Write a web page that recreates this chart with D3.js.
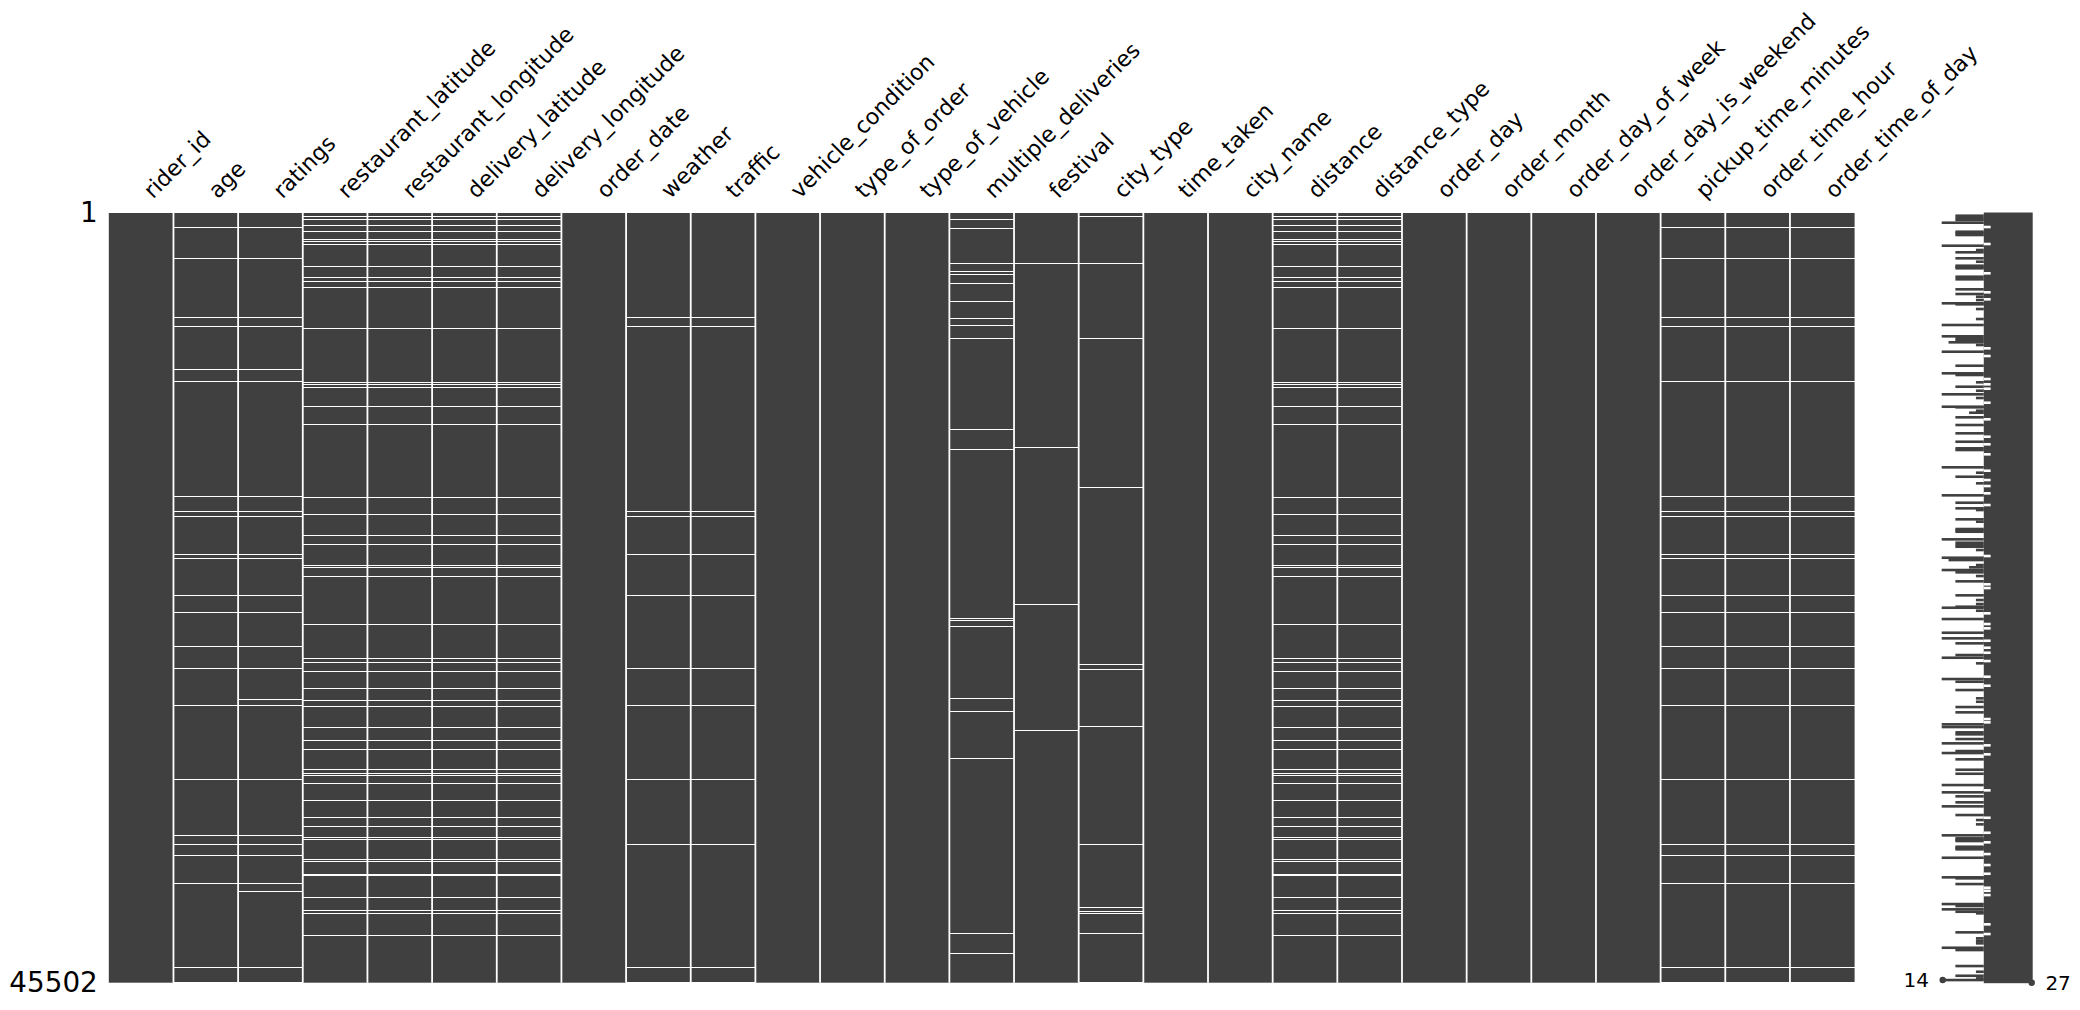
<!DOCTYPE html>
<html>
<head>
<meta charset="utf-8">
<script src="https://cdn.jsdelivr.net/npm/d3@7"></script>
<style>
  body { margin: 0; background: #fff; }
  svg { display: block; font-family: "DejaVu Sans", sans-serif; }
</style>
</head>
<body>
<div id="matrix"></div>
<script>
// ---- data ----
var columns = ["rider_id", "age", "ratings", "restaurant_latitude", "restaurant_longitude",
  "delivery_latitude", "delivery_longitude", "order_date", "weather", "traffic",
  "vehicle_condition", "type_of_order", "type_of_vehicle", "multiple_deliveries",
  "festival", "city_type", "time_taken", "city_name", "distance", "distance_type",
  "order_day", "order_month", "order_day_of_week", "order_day_is_weekend",
  "pickup_time_minutes", "order_time_hour", "order_time_of_day"];

var nRows = 45502;

// row indices of missing values (only the ones that show up at this resolution)
var ageMissing = [845, 2660, 6166, 6698, 9240, 9950, 16749, 17635, 17913, 20142, 20414,
  22602, 23607, 25617, 26917, 29104, 33479, 36773, 37323, 37973, 39629, 44594, 45446];
var ratingsMissing = [845, 2660, 6166, 6698, 9240, 9950, 16749, 17635, 17913, 20142, 20414,
  22602, 23607, 25617, 26917, 28750, 29104, 33479, 36773, 37323, 37973, 39629, 40074, 44594, 45446];
var locationMissing = [177, 372, 727, 1082, 1519, 1655, 1815, 3151, 3801, 4038, 4357, 6817,
  10009, 10127, 10287, 11428, 12492, 16808, 17813, 19054, 19587, 20811, 20947, 21461, 24317,
  26327, 26563, 27095, 28100, 28810, 29146, 30406, 31174, 31706, 32889, 33125, 33208, 33681,
  34722, 35727, 36241, 36909, 37027, 38174, 38292, 39096, 39155, 40455, 41189, 41366, 42702];
var weatherMissing = [6166, 6698, 17635, 17913, 20142, 22602, 26917, 29104, 33479, 37323, 44594, 45446];
var multipleMissing = [372, 905, 2974, 3447, 3589, 4156, 5220, 6225, 6639, 7408, 12788, 13971,
  23961, 24080, 24434, 28691, 29459, 32238, 42584, 43766];
var festivalMissing = [2974, 13852, 23134, 30583];
var cityTypeMissing = [195, 2974, 7408, 16217, 26681, 26977, 30347, 37323, 41047, 41266, 41402, 42584, 45446];
var pickupMissing = [845, 2660, 6166, 6698, 9950, 16749, 17635, 17913, 20142, 20414, 22602,
  23607, 25617, 26917, 29104, 33479, 37323, 37973, 39629, 44594, 45446];

var missingByColumn = {
  "age": ageMissing,
  "ratings": ratingsMissing,
  "restaurant_latitude": locationMissing,
  "restaurant_longitude": locationMissing,
  "delivery_latitude": locationMissing,
  "delivery_longitude": locationMissing,
  "weather": weatherMissing,
  "traffic": weatherMissing,
  "multiple_deliveries": multipleMissing,
  "festival": festivalMissing,
  "city_type": cityTypeMissing,
  "distance": locationMissing,
  "distance_type": locationMissing,
  "pickup_time_minutes": pickupMissing,
  "order_time_hour": pickupMissing,
  "order_time_of_day": pickupMissing
};

// sparkline: usual per-band range of completeness, and the bands that leave it [row, value]
var sparkBand = [20, 27];
var sparkDips = [[160,16],[313,16],[414,16],[573,14],[828,21],[1106,16],[1200,16],[1301,16],
  [1833,21],[1933,14],[2187,19],[2323,16],[2678,16],[2879,19],[3116,16],[3192,16],[3269,16],
  [3565,21],[3766,16],[3920,16],[4511,16],[4688,21],[4789,16],[4948,19],[5102,21],[5143,19],
  [5338,14],[5398,16],[5676,19],[6267,19],[6621,14],[7290,14],[7408,16],[7526,16],[7644,15],
  [7804,19],[7999,21],[8200,14],[8454,21],[9028,16],[9477,14],[9577,16],[9814,21],[10009,19],
  [10127,21],[10269,16],[10387,21],[10506,19],[10718,14],[10937,19],[11215,21],[11452,14],
  [11487,16],[11688,19],[11806,18],[12078,16],[12196,21],[12533,16],[13024,16],[13225,21],
  [13521,16],[13674,21],[13911,16],[14011,16],[14266,21],[15034,14],[15235,21],[15353,19],
  [15590,16],[15785,21],[15980,19],[16140,21],[16571,21],[16690,14],[17127,16],[17263,21],
  [17458,16],[17559,19],[18108,16],[18250,19],[18682,16],[18759,16],[18842,16],[19291,14],
  [19492,16],[19628,16],[19728,16],[19923,19],[20278,21],[20379,14],[20515,15],[20810,19],
  [20946,18],[21106,14],[21242,16],[21461,19],[21774,16],[21951,21],[22170,21],[22602,16],
  [22879,19],[23116,19],[23275,16],[23335,14],[23512,19],[23666,21],[24003,14],[24298,21],
  [24553,21],[24813,14],[25144,14],[25286,21],[25439,16],[25699,21],[25995,21],[26131,16],
  [26291,14],[26486,21],[26622,19],[27414,21],[27550,14],[27710,16],[27946,21],[28200,16],
  [28691,19],[28892,19],[29205,16],[29519,16],[29915,21],[30110,21],[30228,14],[30388,14],
  [30701,16],[30819,16],[31097,16],[31351,14],[31470,21],[31807,16],[31925,14],[32002,21],
  [32297,16],[32912,16],[33149,16],[33817,14],[34130,21],[34248,14],[34485,16],[34839,16],
  [35076,14],[35590,16],[35750,21],[35886,19],[36140,19],[36637,21],[36790,14],[36968,16],
  [37050,16],[37127,16],[37204,21],[37464,16],[37541,16],[37618,16],[37896,21],[38115,14],
  [38546,21],[39061,21],[39273,14],[39333,16],[39670,16],[39888,21],[40066,21],[40320,21],
  [40852,14],[40970,16],[41165,14],[41307,16],[41402,19],[42052,21],[42525,16],[42626,21],
  [42880,19],[43022,19],[43175,19],[43436,14],[43571,16],[44517,16],[44854,19],[45091,16],
  [45245,19],[45345,14]];
var sparkMin = { row: 45345, value: 14 };
var sparkMax = { row: 45501, value: 27 };

// ---- layout ----
var W = 2080, H = 1010;
var matrixLeft = 108.8, matrixRight = 1854.6, matrixTop = 213, matrixBottom = 982.7;
var sparkLeft = 1929, sparkRight = 2045.4;
var gray = "#404040";
var labelSize = 22.2, tickSize = 27.8, sparkFont = 20;

var svg = d3.select("#matrix").append("svg")
  .attr("width", W)
  .attr("height", H);

var x = d3.scaleBand().domain(columns).range([matrixLeft, matrixRight]);
var y = d3.scaleLinear().domain([-0.5, nRows - 0.5]).range([matrixTop, matrixBottom]);

// filled columns
svg.append("g")
  .selectAll("rect")
  .data(columns)
  .enter()
  .append("rect")
  .attr("x", d => x(d))
  .attr("y", matrixTop)
  .attr("width", x.bandwidth())
  .attr("height", matrixBottom - matrixTop)
  .attr("fill", gray);

// missing cells
var cells = [];
columns.forEach(function (c) {
  (missingByColumn[c] || []).forEach(function (r) {
    cells.push({ col: c, row: r });
  });
});
svg.append("g")
  .attr("shape-rendering", "crispEdges")
  .selectAll("rect")
  .data(cells)
  .enter()
  .append("rect")
  .attr("x", d => x(d.col))
  .attr("y", d => Math.round(y(d.row)) - 0.5)
  .attr("width", x.bandwidth())
  .attr("height", 1.5)
  .attr("fill", "white");

// white column separators
svg.append("g")
  .selectAll("line")
  .data(columns.slice(1))
  .enter()
  .append("line")
  .attr("x1", d => x(d))
  .attr("x2", d => x(d))
  .attr("y1", matrixTop)
  .attr("y2", matrixBottom)
  .attr("stroke", "white")
  .attr("stroke-width", 1.8);

// row labels
svg.append("g")
  .attr("transform", "translate(" + matrixLeft + ",0)")
  .call(d3.axisLeft(y).tickValues([0, nRows - 1]).tickFormat(d => d + 1).tickSize(0).tickPadding(11))
  .call(g => g.select(".domain").remove())
  .attr("font-family", null)
  .attr("font-size", null)
  .selectAll("text")
  .attr("font-size", tickSize)
  .attr("fill", "black");

// column labels, rotated 45deg, box anchored left/bottom at the column centre
var asc = 0.76 * labelSize, desc = 0.24 * labelSize, pad = 9.7;
svg.append("g")
  .attr("transform", "translate(0," + matrixTop + ")")
  .call(d3.axisTop(x).tickSize(0).tickPadding(0))
  .call(g => g.select(".domain").remove())
  .attr("font-family", null)
  .attr("font-size", null)
  .selectAll("text")
  .attr("font-size", labelSize)
  .attr("fill", "black")
  .attr("text-anchor", "start")
  .attr("y", 0)
  .attr("dy", null)
  .attr("transform", "translate(" + (0.707 * asc) + "," + (-pad - 0.707 * desc) + ") rotate(-45)");

// ---- sparkline ----
var sx = d3.scaleLinear()
  .domain([sparkMin.value - 2, sparkMax.value + 2])
  .range([sparkLeft, sparkRight]);

var spark = svg.append("g");

spark.append("rect")
  .attr("x", sx(sparkBand[0]))
  .attr("y", y(0) - 0.5)
  .attr("width", sx(sparkBand[1]) - sx(sparkBand[0]) + 1)
  .attr("height", y(nRows - 1) - y(0) + 1)
  .attr("fill", gray);

spark.selectAll("rect.dip")
  .data(sparkDips)
  .enter()
  .append("rect")
  .attr("class", "dip")
  .attr("x", d => d[1] < sparkBand[0] ? sx(d[1]) - 1 : sx(sparkBand[0]))
  .attr("y", d => y(d[0]) - 1.3)
  .attr("width", d => Math.abs(sx(sparkBand[0]) - sx(d[1])) + (d[1] < sparkBand[0] ? 1 : 0))
  .attr("height", 2.6)
  .attr("fill", d => d[1] < sparkBand[0] ? gray : "white");

[sparkMin, sparkMax].forEach(function (p) {
  spark.append("circle")
    .attr("cx", sx(p.value))
    .attr("cy", y(p.row))
    .attr("r", 3.2)
    .attr("fill", gray);
});

spark.append("text")
  .attr("x", sx(sparkMin.value - 2))
  .attr("y", y(sparkMin.row))
  .attr("dy", "0.35em")
  .attr("text-anchor", "end")
  .attr("font-size", sparkFont)
  .text(sparkMin.value);

spark.append("text")
  .attr("x", sx(sparkMax.value + 2))
  .attr("y", y(sparkMax.row))
  .attr("dy", "0.35em")
  .attr("text-anchor", "start")
  .attr("font-size", sparkFont)
  .text(sparkMax.value);
</script>
</body>
</html>
